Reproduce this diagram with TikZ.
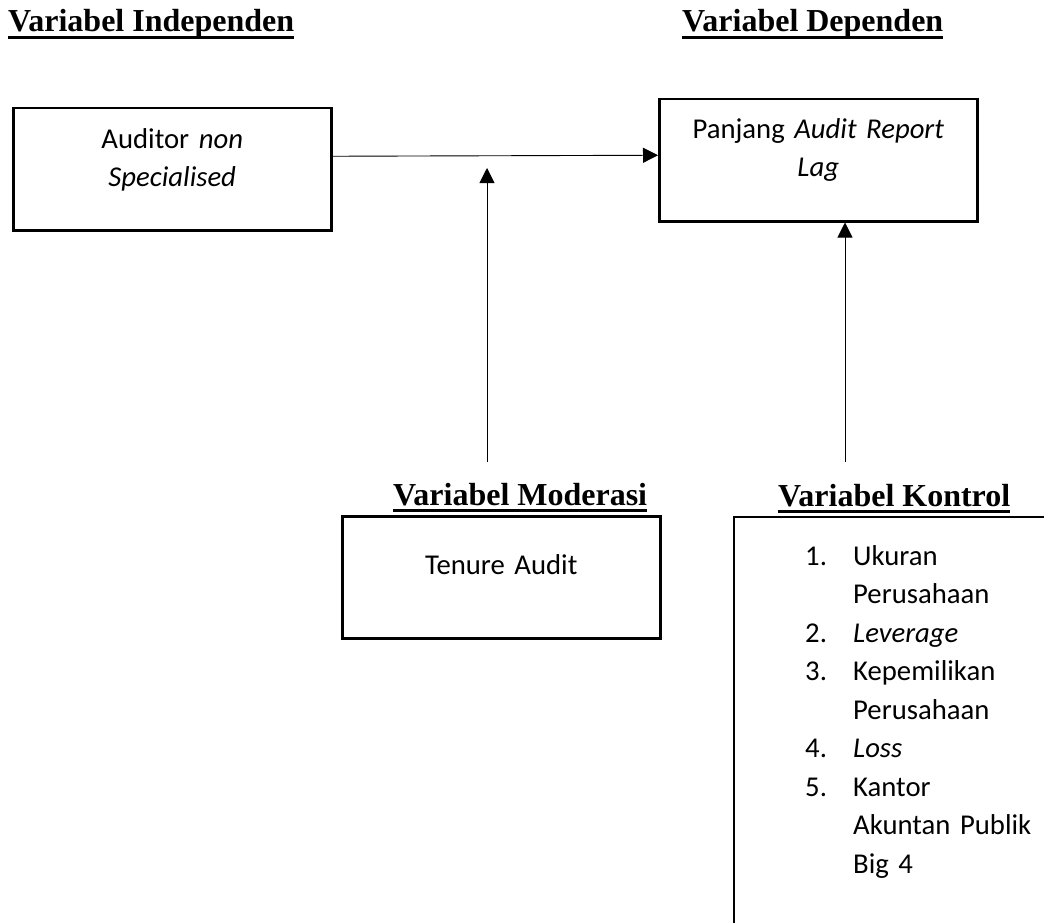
\documentclass[tikz,border=0pt]{standalone}
\usepackage{fontspec}
\setmainfont{Carlito}
\newfontfamily\titlefont{Liberation Serif}
\usetikzlibrary{arrows.meta, positioning}
\tikzstyle{arrow} = [line width=0.9pt, -{Triangle[length=15pt, width=15pt]}]
\tikzstyle{varbox} = [draw, line width=2.5pt, inner sep=0pt, align=center, anchor=north west, text width=318pt, font=\fontsize{28.7}{38}\selectfont]
\tikzstyle{vartitle} = [inner sep=0pt, anchor=base west, font=\titlefont\bfseries\fontsize{32}{38}\selectfont]
\tikzstyle{uline} = [line width=2.6pt]

\begin{document}
\begin{tikzpicture}[x=1pt, y=-1pt]
        \useasboundingbox (0,0) rectangle (1044,923);

        % judul
        \node[vartitle] (indeptitle) at (8,32) {Variabel Independen};
        \node[vartitle] (deptitle) at (682,32) {Variabel Dependen};
        \node[vartitle] (modtitle) at (393,505) {Variabel Moderasi};
        \node[vartitle] (kontroltitle) at (778,506) {Variabel Kontrol};
        \foreach \t in {indeptitle, deptitle, modtitle, kontroltitle}
            \draw[uline] ([yshift=-5.5pt]\t.base west) -- ([yshift=-5.5pt]\t.base east);

        % kotak variabel
        \node[varbox, text height=40pt, text depth=82pt] (indep) at (12,107) {Auditor \textit{non}\\ \textit{Specialised}};
        \node[varbox, text height=39pt, text depth=83pt] (dep) at (658,98) {Panjang \textit{Audit Report}\\ \textit{Lag}};
        \node[varbox, text height=58pt, text depth=64pt] (mod) at (341,515) {Tenure Audit};

        % variabel kontrol
        \draw[line width=2.5pt] (1044,517) -| (734,923);
        \node[inner sep=0pt, anchor=base west, align=left, text width=260pt, font=\fontsize{28.7}{38.5}\selectfont] (kontrol) at (805,565)
            {\makebox[48pt][l]{1.}Ukuran\\ \hspace*{48pt}Perusahaan\\
             \makebox[48pt][l]{2.}\textit{Leverage}\\
             \makebox[48pt][l]{3.}Kepemilikan\\ \hspace*{48pt}Perusahaan\\
             \makebox[48pt][l]{4.}\textit{Loss}\\
             \makebox[48pt][l]{5.}Kantor\\ \hspace*{48pt}Akuntan Publik\\ \hspace*{48pt}Big 4};

        % panah
        \coordinate (modtop) at (487,462);
        \coordinate (kontroltop) at (845,462);
        \draw[arrow] ([yshift=13pt]indep.east) -- ([yshift=5pt]dep.west);
        \draw[arrow] (modtop) -- (487,168);
        \draw[arrow] (kontroltop) -- (kontroltop |- dep.south);

    \end{tikzpicture}
\end{document}
